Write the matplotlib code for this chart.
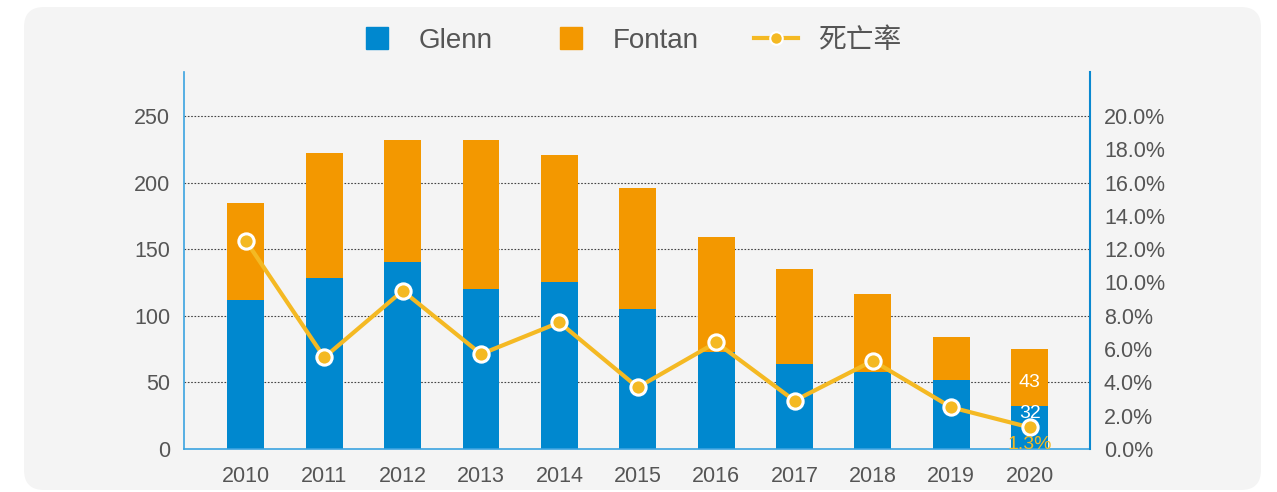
import numpy as np
import matplotlib
matplotlib.use('Agg')
import matplotlib.pyplot as plt
from matplotlib.patches import FancyBboxPatch
from matplotlib.lines import Line2D
from matplotlib.ticker import PercentFormatter

plt.rcParams['font.family'] = ['Liberation Sans', 'Noto Sans CJK SC', 'DejaVu Sans']

## Data
years = ['2010', '2011', '2012', '2013', '2014', '2015', '2016', '2017', '2018', '2019', '2020']
glenn = [112, 128, 140, 120, 125, 105, 73, 64, 58, 52, 32]
fontan = [73, 94, 92, 112, 96, 91, 86, 71, 58, 32, 43]
mortality = [12.5, 5.5, 9.5, 5.7, 7.6, 3.7, 6.4, 2.9, 5.3, 2.5, 1.3]  # percent

c_glenn = '#0088cf'
c_fontan = '#f39800'
c_line = '#f4b923'
c_text = '#555555'
c_spine = '#3aa3e0'

W, H = 1277, 492
fig = plt.figure(figsize=(W / 100, H / 100), dpi=100)
fig.patch.set_facecolor('white')

# rounded grey panel behind everything, drawn in pixel coords
bg = fig.add_axes([0, 0, 1, 1], zorder=-10)
bg.set_xlim(0, W)
bg.set_ylim(H, 0)
bg.axis('off')
bg.add_patch(FancyBboxPatch((24, 7), 1261 - 24, 483, boxstyle='round,pad=0,rounding_size=20',
                            facecolor='#f4f4f4', edgecolor='none'))

ax = fig.add_axes([184 / W, 1 - 449 / H, (1090 - 184) / W, (449 - 72) / H])
ax.set_facecolor('none')
x = np.arange(len(years))
bw = 0.47
ax.bar(x, glenn, bw, color=c_glenn, zorder=2)
ax.bar(x, fontan, bw, bottom=glenn, color=c_fontan, zorder=2)

ax.set_xlim(-0.79, 10.77)
ax.set_ylim(0, 283)
ax.set_yticks([0, 50, 100, 150, 200, 250])
ax.set_xticks(x)
ax.set_xticklabels(years)
ax.tick_params(axis='both', length=0, labelsize=15.5, colors=c_text)
ax.tick_params(axis='x', pad=12)
ax.tick_params(axis='y', pad=10)
for yv in [50, 100, 150, 200, 250]:
    ax.axhline(yv, color='#444444', lw=0.8, ls=(0, (1.5, 1.5)), zorder=1)
for s in ['top', 'right']:
    ax.spines[s].set_visible(False)
ax.spines['left'].set_color(c_spine)
ax.spines['bottom'].set_color(c_spine)
ax.spines['left'].set_linewidth(1.2)
ax.spines['bottom'].set_linewidth(1.2)

# value labels on the last bar
ax.text(x[-1], glenn[-1] - 5, str(glenn[-1]), ha='center', va='center',
        color='white', fontsize=14, zorder=4)
ax.text(x[-1], glenn[-1] + 18, str(fontan[-1]), ha='center',
        va='center', color='white', fontsize=14, zorder=4)

ax2 = ax.twinx()
ax2.set_ylim(0, 283 / 250 * 20)
ax2.plot(x, mortality, color=c_line, lw=3, marker='o', ms=11,
         markerfacecolor=c_line, markeredgecolor='white', markeredgewidth=2.2,
         zorder=3)
ax2.set_yticks(np.arange(0, 21, 2))
ax2.yaxis.set_major_formatter(PercentFormatter(decimals=1))
ax2.tick_params(axis='y', length=0, labelsize=15.5, colors=c_text, pad=10)
for s in ['top', 'left', 'bottom']:
    ax2.spines[s].set_visible(False)
ax2.spines['right'].set_color('#0a88d0')
ax2.spines['right'].set_linewidth(1.5)
ax2.text(x[-1], 0.3, f'{mortality[-1]}%', ha='center',
         va='center', color=c_line, fontsize=14)

handles = [
    Line2D([], [], ls='none', marker='s', ms=16, color=c_glenn),
    Line2D([], [], ls='none', marker='s', ms=16, color=c_fontan),
    Line2D([], [], color=c_line, lw=3, marker='o', ms=9,
           markerfacecolor=c_line, markeredgecolor='white', markeredgewidth=1.5),
]
fig.legend(handles, ['Glenn', 'Fontan', '死亡率'], loc='center',
           bbox_to_anchor=(628 / W, 1 - 41 / H), ncol=3, frameon=False,
           fontsize=20, labelcolor=c_text, handlelength=1.6,
           handletextpad=0.7, columnspacing=2.0)

fig.savefig('out.png', dpi=100)
